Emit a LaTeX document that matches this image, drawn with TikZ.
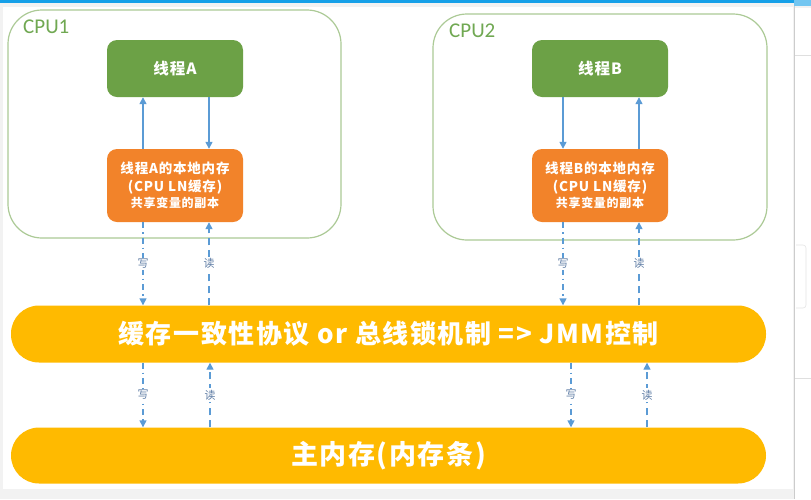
\documentclass[tikz,border=0pt]{standalone}
\usepackage{fontspec}
\setmainfont{Noto Sans CJK SC}[LetterSpace=6]
\newfontfamily\plaincjk{Noto Sans CJK SC}
\newfontfamily\carl{Carlito}
\usetikzlibrary{arrows.meta,calc}
\definecolor{cpuline}{RGB}{172,202,150}
\definecolor{cpulab}{RGB}{112,168,82}
\definecolor{thrgreen}{RGB}{108,161,70}
\definecolor{memorange}{RGB}{242,131,42}
\definecolor{bargold}{RGB}{255,186,0}
\definecolor{arrblue}{RGB}{91,155,213}
\definecolor{labblue}{RGB}{95,125,165}
\definecolor{topblue}{RGB}{22,160,232}
\definecolor{pagegray}{RGB}{242,242,242}
\tikzset{
  cpubox/.style={draw=cpuline, line width=1.2pt, rounded corners=34pt, minimum width=333pt, minimum height=228pt},
  cpulabel/.style={text=cpulab, font=\carl\fontsize{21}{21}\selectfont, anchor=west, inner sep=0pt},
  thread/.style={fill=thrgreen, rounded corners=10pt, minimum width=136pt, minimum height=57pt, text=white, font=\bfseries\fontsize{15.5}{15.5}\selectfont, inner sep=0pt},
  localmem/.style={fill=memorange, rounded corners=10pt, minimum width=136pt, minimum height=73pt, text=white, font=\bfseries\fontsize{13.5}{18}\selectfont, align=center, inner sep=0pt},
  bar/.style={fill=bargold, rounded corners=28pt, minimum width=755pt, minimum height=57pt, text=white, font=\bfseries\fontsize{26}{26}\selectfont, inner sep=0pt},
  solidarr/.style={draw=arrblue, line width=1.4pt, -{Triangle[length=7pt,width=7pt]}},
  wrarr/.style={draw=arrblue, line width=1.4pt, dash pattern=on 6pt off 4pt on 1.5pt off 4pt, -{Triangle[length=7pt,width=7pt]}},
  rdarr/.style={draw=arrblue, line width=1.4pt, dash pattern=on 7pt off 5pt, -{Triangle[length=7pt,width=7pt]}},
  rwlab/.style={fill=white, text=labblue, font=\plaincjk\fontsize{11}{11}\selectfont, inner sep=1.5pt}
}
\begin{document}
\begin{tikzpicture}[x=1pt,y=-1pt]
\useasboundingbox (0,0) rectangle (811,499);
% screenshot background
\fill[pagegray] (0,0) rectangle (811,499);
\fill[white] (3,7) rectangle (793,489);
\fill[white] (795,8) rectangle (811,499);
\draw[gray!40, line width=1pt] (794,3) -- (794,499);
\draw[gray!25, line width=0.8pt] (795,55) -- (811,55);
\draw[gray!25, line width=0.8pt] (795,378) -- (811,378);
\draw[gray!20, line width=0.6pt, rounded corners=3pt] (796,245) -- (806,245) -- (806,308) -- (796,308);
\fill[topblue] (0,0) rectangle (794,3);
\fill[topblue!60] (794,0) rectangle (811,6);

% CPU containers
\node[cpubox] (cpu1) at (174.5,124) {};
\node[cpubox, minimum width=334pt, minimum height=226pt] (cpu2) at (600,127) {};
\node[cpulabel] (cpu1lab) at (23,26.5) {CPU1};
\node[cpulabel] (cpu2lab) at (449,30.5) {CPU2};

% threads
\node[thread] (ta) at (175,68.5) {线程A};
\node[thread] (tb) at (600,68.5) {线程B};

% local memories
\node[localmem] (oa) at (175,185.5) {线程A的本地内存\\(CPU LN缓存)\\[-2pt]{\fontsize{12}{14}\selectfont 共享变量的副本}};
\node[localmem] (ob) at (600,185.5) {线程B的本地内存\\(CPU LN缓存)\\[-2pt]{\fontsize{12}{14}\selectfont 共享变量的副本}};

% bars
\node[bar] (bus) at (388.5,334) {缓存一致性协议 or 总线锁机制 => JMM控制};
\node[bar, minimum height=56pt, font=\bfseries\fontsize{27}{27}\selectfont] (mainmem) at (388.5,455.5) {主内存(内存条)};

% thread <-> local memory
\draw[solidarr] ([xshift=-32pt]oa.north) -- ([xshift=-32pt]ta.south);
\draw[solidarr] ([xshift=34pt]ta.south) -- ([xshift=34pt]oa.north);
\draw[solidarr] ([xshift=-37pt]tb.south) -- ([xshift=-37pt]ob.north);
\draw[solidarr] ([xshift=39pt]ob.north) -- ([xshift=39pt]tb.south);

% local memory <-> bus
\draw[wrarr] ([xshift=-32pt]oa.south) -- node[rwlab] {写} ([xshift=-32pt]oa.south |- bus.north);
\draw[rdarr] ([xshift=34pt]oa.south |- bus.north) -- node[rwlab] {读} ([xshift=34pt]oa.south);
\draw[wrarr] ([xshift=-37pt]ob.south) -- node[rwlab] {写} ([xshift=-37pt]ob.south |- bus.north);
\draw[rdarr] ([xshift=39pt]ob.south |- bus.north) -- node[rwlab] {读} ([xshift=39pt]ob.south);

% bus <-> main memory
\draw[wrarr] ([xshift=-32pt]oa.south |- bus.south) -- node[rwlab] {写} ([xshift=-32pt]oa.south |- mainmem.north);
\draw[rdarr] ([xshift=35pt]oa.south |- mainmem.north) -- node[rwlab] {读} ([xshift=35pt]oa.south |- bus.south);
\draw[wrarr] ([xshift=-29pt]ob.south |- bus.south) -- node[rwlab] {写} ([xshift=-29pt]ob.south |- mainmem.north);
\draw[rdarr] ([xshift=47pt]ob.south |- mainmem.north) -- node[rwlab] {读} ([xshift=47pt]ob.south |- bus.south);
\end{tikzpicture}
\end{document}
